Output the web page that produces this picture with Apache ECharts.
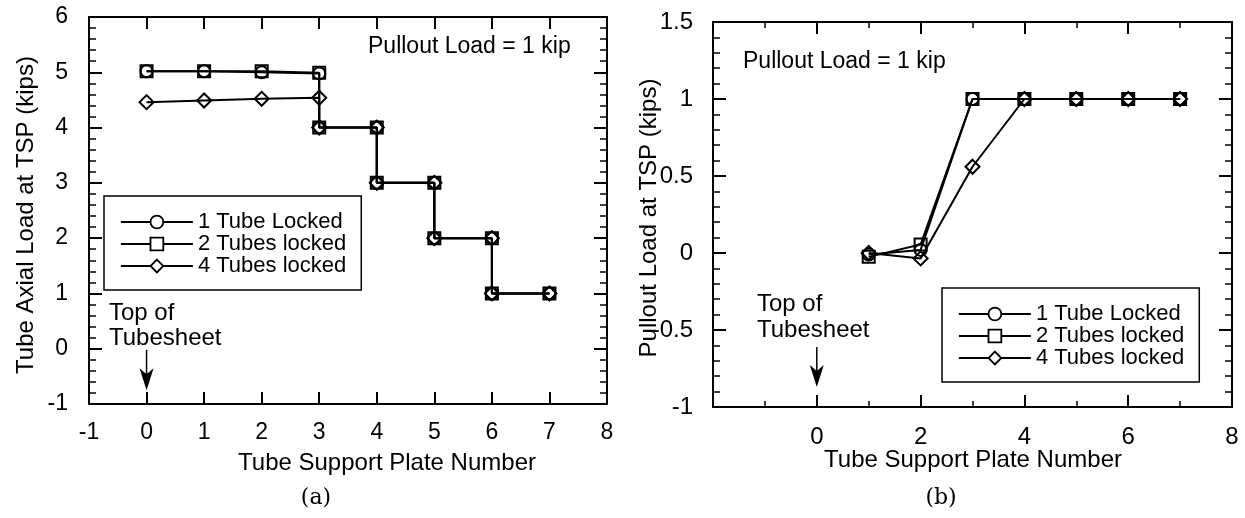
<!DOCTYPE html>
<html><head><meta charset="utf-8">
<script src="https://cdn.jsdelivr.net/npm/echarts@6/dist/echarts.min.js"></script>
<style>html,body{margin:0;padding:0;background:#fff}#c{width:1245px;height:518px}</style>
</head><body><div id="c"></div>
<script>
// ---- data ----
const seriesNames = ['1 Tube Locked', '2 Tubes locked', '4 Tubes locked'];
const seriesSymbols = ['circle', 'rect', 'diamond'];

// (a) Tube axial load at TSP
const leftX      = [0, 1, 2, 3, 3, 4, 4, 5, 5, 6, 6, 7];
const leftTube1  = [5.02, 5.02, 5.00, 4.98, 4, 4, 3, 3, 2, 2, 1, 1];
const leftTube2  = [5.02, 5.02, 5.02, 4.99, 4, 4, 3, 3, 2, 2, 1, 1];
const leftTube4  = [4.46, 4.49, 4.52, 4.54, 4, 4, 3, 3, 2, 2, 1, 1];

// (b) Pullout load at TSP
const rightX     = [1, 2, 3, 4, 5, 6, 7];
const rightTube1 = [-0.01, 0.02, 1, 1, 1, 1, 1];
const rightTube2 = [-0.025, 0.055, 1, 1, 1, 1, 1];
const rightTube4 = [0.0, -0.035, 0.56, 1, 1, 1, 1];

// axis ranges / ticks
const leftXAxisRange  = { min: -1, max: 8, interval: 1 };
const leftYAxisRange  = { min: -1, max: 6, interval: 1 };
const rightXAxisRange = { min: -2, max: 8, interval: 2 };
const rightYAxisRange = { min: -1, max: 1.5, interval: 0.5 };
const rightXHiddenLabels = [-2];

// annotation anchors (data units)
const leftArrow  = { x: 0, from: -0.02, to: -0.75 };
const rightArrow = { x: 0, from: -0.61, to: -0.87 };

const FONT = "'Liberation Sans', Arial, Helvetica, sans-serif";

function axis(gridIndex, position, range, opt) {
  return {
    type: 'value', gridIndex: gridIndex, position: position,
    min: range.min, max: range.max, interval: range.interval,
    axisLine: { show: true, onZero: false, lineStyle: { color: '#000', width: 2 } },
    axisTick: { show: true, inside: true, length: opt.tickLen, lineStyle: { color: '#000', width: 2 } },
    minorTick: opt.minor ? { show: true, splitNumber: opt.minor, length: opt.minorLen, lineStyle: { color: '#000', width: 1.5 } } : { show: false },
    axisLabel: {
      show: !!opt.labels, margin: opt.margin || 8, color: '#000', fontSize: opt.fontSize || 23, fontFamily: FONT,
      showMinLabel: true, showMaxLabel: true, hideOverlap: false,
      formatter: opt.formatter
    },
    splitLine: { show: false }, minorSplitLine: { show: false }
  };
}

function mkSeries(names, xs, ys, xi, yi) {
  return ys.map(function (vals, k) {
    return {
      type: 'line', name: names[k], xAxisIndex: xi, yAxisIndex: yi,
      data: xs.map(function (x, i) { return [x, vals[i]]; }),
      symbol: seriesSymbols[k], symbolSize: seriesSymbols[k] === 'diamond' ? 14 : 12,
      showAllSymbol: true,
      itemStyle: { color: 'rgba(0,0,0,0)', borderColor: '#000', borderWidth: 2 },
      lineStyle: { color: '#000', width: 2 },
      emphasis: { disabled: true }, silent: true, z: 3 + k
    };
  });
}

function legendCfg(left, top) {
  return {
    left: left, top: top, orient: 'vertical', data: seriesNames, selectedMode: false,
    itemWidth: 72, itemHeight: 16, itemGap: 0, padding: [15, 15, 13, 16],
    borderColor: '#000', borderWidth: 1.5, backgroundColor: '#fff',
    textStyle: { fontSize: 22, lineHeight: 22, color: '#000', fontFamily: FONT },
    itemStyle: { color: '#fff', borderColor: '#000', borderWidth: 1.8 },
    lineStyle: { color: '#000', width: 1.8 }
  };
}

const chart = echarts.init(document.getElementById('c'), null, { renderer: 'canvas' });
chart.setOption({
  animation: false,
  backgroundColor: '#fff',
  grid: [
    { left: 89, top: 17, width: 518, height: 387, outerBoundsMode: 'none' },
    { left: 713, top: 22, width: 519, height: 385, outerBoundsMode: 'none' }
  ],
  xAxis: [
    axis(0, 'bottom', leftXAxisRange, { tickLen: 12, labels: true, margin: 17 }),
    axis(0, 'top', leftXAxisRange, { tickLen: 12 }),
    axis(1, 'bottom', rightXAxisRange, { tickLen: 12, minor: 2, minorLen: 6, labels: true, margin: 18, fontSize: 24,
      formatter: function (v) { return rightXHiddenLabels.indexOf(v) >= 0 ? '' : String(v); } }),
    axis(1, 'top', rightXAxisRange, { tickLen: 12, minor: 2, minorLen: 6 })
  ],
  yAxis: [
    axis(0, 'left', leftYAxisRange, { tickLen: 13, minor: 5, minorLen: 7, labels: true, margin: 21 }),
    axis(0, 'right', leftYAxisRange, { tickLen: 13, minor: 5, minorLen: 7 }),
    axis(1, 'left', rightYAxisRange, { tickLen: 13, minor: 5, minorLen: 7, labels: true, margin: 20, fontSize: 24 }),
    axis(1, 'right', rightYAxisRange, { tickLen: 13, minor: 5, minorLen: 7 })
  ],
  legend: [legendCfg(104, 196), legendCfg(942, 288)],
  series: [].concat(
    mkSeries(seriesNames, leftX, [leftTube1, leftTube2, leftTube4], 0, 0),
    mkSeries(seriesNames, rightX, [rightTube1, rightTube2, rightTube4], 2, 2)
  )
});

function arrowGraphics(gridIndex, a) {
  const p0 = chart.convertToPixel({ gridIndex: gridIndex }, [a.x, a.from]);
  const p1 = chart.convertToPixel({ gridIndex: gridIndex }, [a.x, a.to]);
  const x = p0[0], tip = p1[1];
  return [
    { type: 'line', shape: { x1: x, y1: p0[1], x2: x, y2: tip - 14 }, style: { stroke: '#000', lineWidth: 1.5 }, silent: true, z: 10 },
    { type: 'polygon', shape: { points: [[x, tip], [x - 7, tip - 22], [x, tip - 16], [x + 7, tip - 22]] }, style: { fill: '#000' }, silent: true, z: 10 }
  ];
}

function txt(text, x, y, o) {
  o = o || {};
  return {
    type: 'text', x: x, y: y, rotation: o.rotation || 0, silent: true, z: 10,
    style: {
      text: text, fill: '#000', fontSize: o.size || 22, fontFamily: o.family || FONT,
      align: o.align || 'left', verticalAlign: o.valign || 'middle', lineHeight: o.lineHeight
    }
  };
}

chart.setOption({
  graphic: [].concat(
    arrowGraphics(0, leftArrow),
    arrowGraphics(1, rightArrow),
    [
      txt('Pullout Load = 1 kip', 368, 47, { size: 23 }),
      txt('Pullout Load = 1 kip', 743, 62, { size: 23 }),
      txt('Top of\nTubesheet', 109, 326, { size: 24, lineHeight: 25 }),
      txt('Top of\nTubesheet', 757, 317, { size: 24, lineHeight: 26 }),
      txt('Tube Support Plate Number', 387, 463, { size: 24, align: 'center' }),
      txt('Tube Support Plate Number', 973, 460, { size: 24, align: 'center' }),
      txt('Tube Axial Load at TSP (kips)', 26, 215, { size: 24, align: 'center', rotation: Math.PI / 2 }),
      txt('Pullout Load at TSP (kips)', 649, 218, { size: 24, align: 'center', rotation: Math.PI / 2 }),
      txt('(a)', 316, 498, { size: 22, align: 'center', family: "'DejaVu Serif', serif" }),
      txt('(b)', 941, 498, { size: 22, align: 'center', family: "'DejaVu Serif', serif" })
    ]
  )
});
</script>
</body></html>
